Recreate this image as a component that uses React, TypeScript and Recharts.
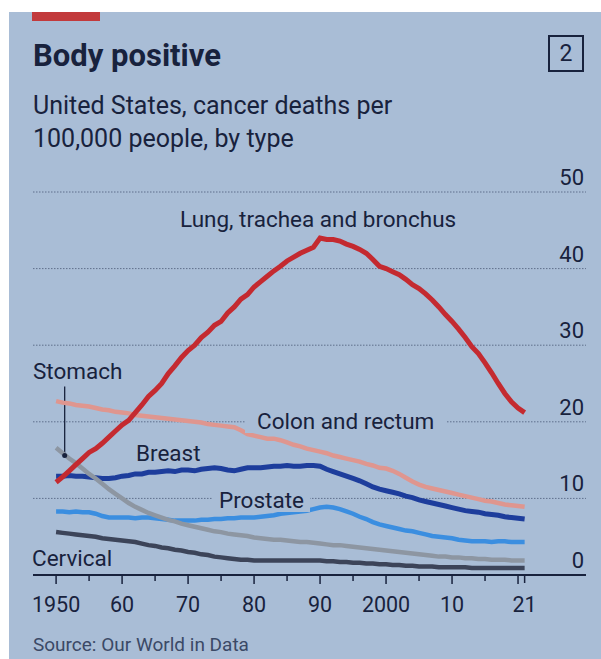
import React from 'react';
import {
  LineChart,
  Line,
  XAxis,
  YAxis,
  CartesianGrid,
  ReferenceLine,
  ReferenceDot,
} from 'recharts';

const years = [
  1950, 1951, 1952, 1953, 1954, 1955, 1956, 1957, 1958, 1959,
  1960, 1961, 1962, 1963, 1964, 1965, 1966, 1967, 1968, 1969,
  1970, 1971, 1972, 1973, 1974, 1975, 1976, 1977, 1978, 1979,
  1980, 1981, 1982, 1983, 1984, 1985, 1986, 1987, 1988, 1989,
  1990, 1991, 1992, 1993, 1994, 1995, 1996, 1997, 1998, 1999,
  2000, 2001, 2002, 2003, 2004, 2005, 2006, 2007, 2008, 2009,
  2010, 2011, 2012, 2013, 2014, 2015, 2016, 2017, 2018, 2019,
  2020, 2021,
];

const lung = [
  12.1, 12.8, 13.6, 14.4, 15.2, 16.0, 16.5, 17.2, 18.0, 18.8,
  19.6, 20.2, 21.2, 22.2, 23.3, 24.1, 25.0, 26.3, 27.3, 28.4,
  29.3, 30.0, 31.0, 31.7, 32.6, 33.1, 34.2, 35.0, 36.0, 36.6,
  37.6, 38.3, 39.0, 39.7, 40.3, 41.0, 41.5, 42.0, 42.4, 42.8,
  44.0, 43.8, 43.8, 43.6, 43.2, 42.9, 42.5, 42.0, 41.2, 40.3,
  40.0, 39.6, 39.2, 38.6, 37.9, 37.4, 36.7, 35.9, 35.0, 34.0,
  33.1, 32.1, 31.0, 29.8, 28.9, 27.7, 26.4, 25.0, 23.7, 22.6,
  21.8, 21.2,
];

const colon = [
  22.7, 22.5, 22.4, 22.2, 22.1, 22.0, 21.8, 21.6, 21.5, 21.3,
  21.2, 21.1, 20.9, 20.8, 20.7, 20.6, 20.5, 20.4, 20.3, 20.2,
  20.1, 20.0, 19.9, 19.7, 19.6, 19.5, 19.4, 19.3, 18.9, 18.4,
  18.2, 18.0, 17.8, 17.8, 17.6, 17.3, 17.0, 16.8, 16.5, 16.3,
  16.1, 15.9, 15.6, 15.4, 15.2, 15.0, 14.8, 14.5, 14.3, 14.0,
  13.9, 13.6, 13.2, 12.7, 12.2, 11.8, 11.5, 11.3, 11.1, 10.9,
  10.7, 10.5, 10.3, 10.1, 9.9, 9.7, 9.6, 9.4, 9.2, 9.1,
  9.0, 8.9,
];

const breast = [
  12.9, 12.9, 13.0, 12.9, 12.9, 12.8, 12.7, 12.6, 12.6, 12.7,
  12.9, 13.0, 13.2, 13.2, 13.4, 13.4, 13.5, 13.6, 13.5, 13.7,
  13.7, 13.6, 13.8, 13.9, 14.0, 13.9, 13.7, 13.6, 13.8, 14.0,
  14.0, 14.0, 14.1, 14.2, 14.2, 14.3, 14.2, 14.2, 14.3, 14.3,
  14.2, 13.8, 13.5, 13.2, 12.9, 12.6, 12.3, 11.9, 11.5, 11.2,
  11.0, 10.8, 10.6, 10.3, 10.1, 9.8, 9.6, 9.4, 9.2, 9.0,
  8.8, 8.6, 8.4, 8.3, 8.2, 8.0, 7.9, 7.8, 7.6, 7.5,
  7.4, 7.3,
];

const prostate = [
  8.3, 8.3, 8.2, 8.3, 8.2, 8.2, 8.0, 7.7, 7.5, 7.5,
  7.5, 7.5, 7.4, 7.5, 7.5, 7.4, 7.3, 7.2, 7.1, 7.1,
  7.1, 7.1, 7.2, 7.2, 7.3, 7.3, 7.4, 7.4, 7.5, 7.5,
  7.5, 7.6, 7.7, 7.8, 8.0, 8.1, 8.2, 8.3, 8.4, 8.6,
  8.8, 8.9, 8.8, 8.6, 8.3, 8.0, 7.6, 7.3, 6.9, 6.6,
  6.4, 6.2, 6.0, 5.8, 5.7, 5.5, 5.3, 5.1, 5.0, 4.9,
  4.8, 4.6, 4.5, 4.4, 4.4, 4.4, 4.3, 4.4, 4.4, 4.3,
  4.3, 4.3,
];

const stomach = [
  16.6, 15.9, 15.2, 14.6, 13.9, 13.2, 12.6, 11.9, 11.2, 10.6,
  10.0, 9.4, 8.9, 8.5, 8.1, 7.8, 7.5, 7.2, 7.0, 6.7,
  6.5, 6.3, 6.1, 5.9, 5.7, 5.6, 5.4, 5.3, 5.2, 5.1,
  4.9, 4.8, 4.7, 4.6, 4.6, 4.5, 4.4, 4.3, 4.3, 4.2,
  4.1, 4.0, 3.9, 3.9, 3.8, 3.7, 3.6, 3.5, 3.4, 3.3,
  3.2, 3.1, 3.0, 2.9, 2.8, 2.7, 2.6, 2.5, 2.4, 2.4,
  2.3, 2.3, 2.2, 2.2, 2.1, 2.1, 2.0, 2.0, 2.0, 1.9,
  1.9, 1.9,
];

const cervical = [
  5.6, 5.5, 5.4, 5.3, 5.2, 5.1, 5.0, 4.8, 4.7, 4.6,
  4.5, 4.4, 4.3, 4.1, 3.9, 3.8, 3.6, 3.5, 3.3, 3.2,
  3.0, 2.9, 2.7, 2.6, 2.4, 2.3, 2.2, 2.1, 2.0, 2.0,
  1.9, 1.9, 1.9, 1.9, 1.9, 1.9, 1.9, 1.9, 1.9, 1.9,
  1.9, 1.8, 1.8, 1.7, 1.7, 1.6, 1.6, 1.5, 1.5, 1.4,
  1.4, 1.3, 1.3, 1.2, 1.2, 1.1, 1.1, 1.1, 1.0, 1.0,
  1.0, 1.0, 1.0, 0.9, 0.9, 0.9, 0.9, 0.9, 0.9, 0.9,
  0.9, 0.9,
];

const xTicks = [1950, 1955, 1960, 1965, 1970, 1975, 1980, 1985, 1990, 1995, 2000, 2005, 2010, 2015, 2020, 2021];
const xLabels: Record<number, string> = {
  1950: '1950', 1960: '60', 1970: '70', 1980: '80', 1990: '90', 2000: '2000', 2010: '10', 2021: '21',
};
const yTicks = [0, 10, 20, 30, 40, 50];

const BG = '#a9bdd6';
const INK = '#18223d';
const FONT = 'Roboto, "Liberation Sans", sans-serif';

const data = years.map((year, i) => ({
  year,
  lung: lung[i],
  colon: colon[i],
  breast: breast[i],
  prostate: prostate[i],
  stomach: stomach[i],
  cervical: cervical[i],
}));

const XTick = (props: any) => {
  const { x, y, payload } = props;
  const v = payload.value as number;
  const len = v % 10 === 0 ? 9 : v === 2021 ? 8 : 6;
  const label = xLabels[v];
  return (
    <g>
      <line x1={x} x2={x} y1={y} y2={y + len} stroke={INK} strokeWidth={1.5} />
      {label && (
        <text x={x} y={y + 37} textAnchor="middle" fontSize={21.5} fill={INK} fontFamily={FONT}>
          {label}
        </text>
      )}
    </g>
  );
};

// labels sit just above their gridline, right-aligned at the panel edge
const YTick = (props: any) => {
  const { y, payload } = props;
  return (
    <text x={584} y={y - 7} textAnchor="end" fontSize={22} fill={INK} fontFamily={FONT}>
      {payload.value}
    </text>
  );
};

const Label = ({ x, y, text, size = 22.5, bg = false, pad = 0 }: any) => (
  <div
    style={{
      position: 'absolute',
      left: x - pad,
      top: y,
      fontSize: size,
      lineHeight: 1,
      color: INK,
      fontFamily: FONT,
      whiteSpace: 'nowrap',
      background: bg ? BG : 'transparent',
      padding: `0 ${pad}px`,
    }}
  >
    {text}
  </div>
);

export default function App() {
  return (
    <div style={{ position: 'absolute', left: 0, top: 0, width: 601, height: 659, background: '#fff', overflow: 'hidden' }}>
      <div style={{ position: 'absolute', left: 9, top: 12, width: 592, height: 647, background: BG }} />
      <div style={{ position: 'absolute', left: 32, top: 12, width: 68, height: 9, background: '#c23a3c' }} />

      <div style={{ position: 'absolute', left: 0, top: 0 }}>
        <LineChart width={601} height={659} data={data} margin={{ top: 192, right: 0, bottom: 0, left: 33 }}>
          <CartesianGrid vertical={false} stroke="#5f6f8c" strokeDasharray="1.5 1.5" strokeWidth={1} />
          <XAxis
            dataKey="year"
            type="number"
            domain={[1946.5, 2030.3]}
            allowDataOverflow
            ticks={xTicks}
            interval={0}
            tickSize={0}
            tickMargin={0}
            tickLine={false}
            tick={<XTick />}
            axisLine={{ stroke: INK, strokeWidth: 1.8 }}
            height={84}
          />
          <YAxis
            orientation="right"
            domain={[0, 50]}
            ticks={yTicks}
            interval={0}
            width={15}
            axisLine={false}
            tickLine={false}
            tick={<YTick />}
          />
          <ReferenceLine
            segment={[{ x: 1951.3, y: 24.6 }, { x: 1951.3, y: 15.6 }]}
            stroke={INK}
            strokeWidth={1.3}
          />
          <ReferenceDot x={1951.3} y={15.6} r={2.5} fill={INK} stroke="none" />
          <Line dataKey="cervical" stroke="#3c4459" strokeWidth={4.5} dot={false} isAnimationActive={false} />
          <Line dataKey="prostate" stroke="#3b8ee0" strokeWidth={4.5} dot={false} isAnimationActive={false} />
          <Line dataKey="breast" stroke="#1d3d9c" strokeWidth={5} dot={false} isAnimationActive={false} />
          <Line dataKey="stomach" stroke="#8d96a2" strokeWidth={4.5} dot={false} isAnimationActive={false} />
          <Line dataKey="colon" stroke="#df968f" strokeWidth={4.5} dot={false} isAnimationActive={false} />
          <Line dataKey="lung" stroke="#c42a30" strokeWidth={5} dot={false} isAnimationActive={false} />
        </LineChart>
      </div>

      <div style={{ position: 'absolute', left: 33, top: 40, fontSize: 31, lineHeight: 1, fontWeight: 700, color: INK, fontFamily: FONT }}>
        Body positive
      </div>
      <div style={{ position: 'absolute', left: 33, top: 89, fontSize: 25, lineHeight: '33px', color: INK, fontFamily: FONT }}>
        United States, cancer deaths per
        <br />
        100,000 people, by type
      </div>
      <div
        style={{
          position: 'absolute',
          left: 548,
          top: 35,
          width: 32,
          height: 33,
          border: `2px solid ${INK}`,
          color: INK,
          fontFamily: FONT,
          fontSize: 23,
          lineHeight: '33px',
          textAlign: 'center',
        }}
      >
        2
      </div>

      <Label x={180} y={208} text="Lung, trachea and bronchus" />
      <Label x={33} y={360} text="Stomach" />
      <Label x={257} y={410} text="Colon and rectum" bg pad={12} />
      <Label x={136} y={442} text="Breast" />
      <Label x={219} y={489} text="Prostate" bg pad={6} />
      <Label x={32} y={547} text="Cervical" />

      <div style={{ position: 'absolute', left: 33, top: 635, fontSize: 19, lineHeight: 1, color: '#3b4966', fontFamily: FONT }}>
        Source: Our World in Data
      </div>
    </div>
  );
}
